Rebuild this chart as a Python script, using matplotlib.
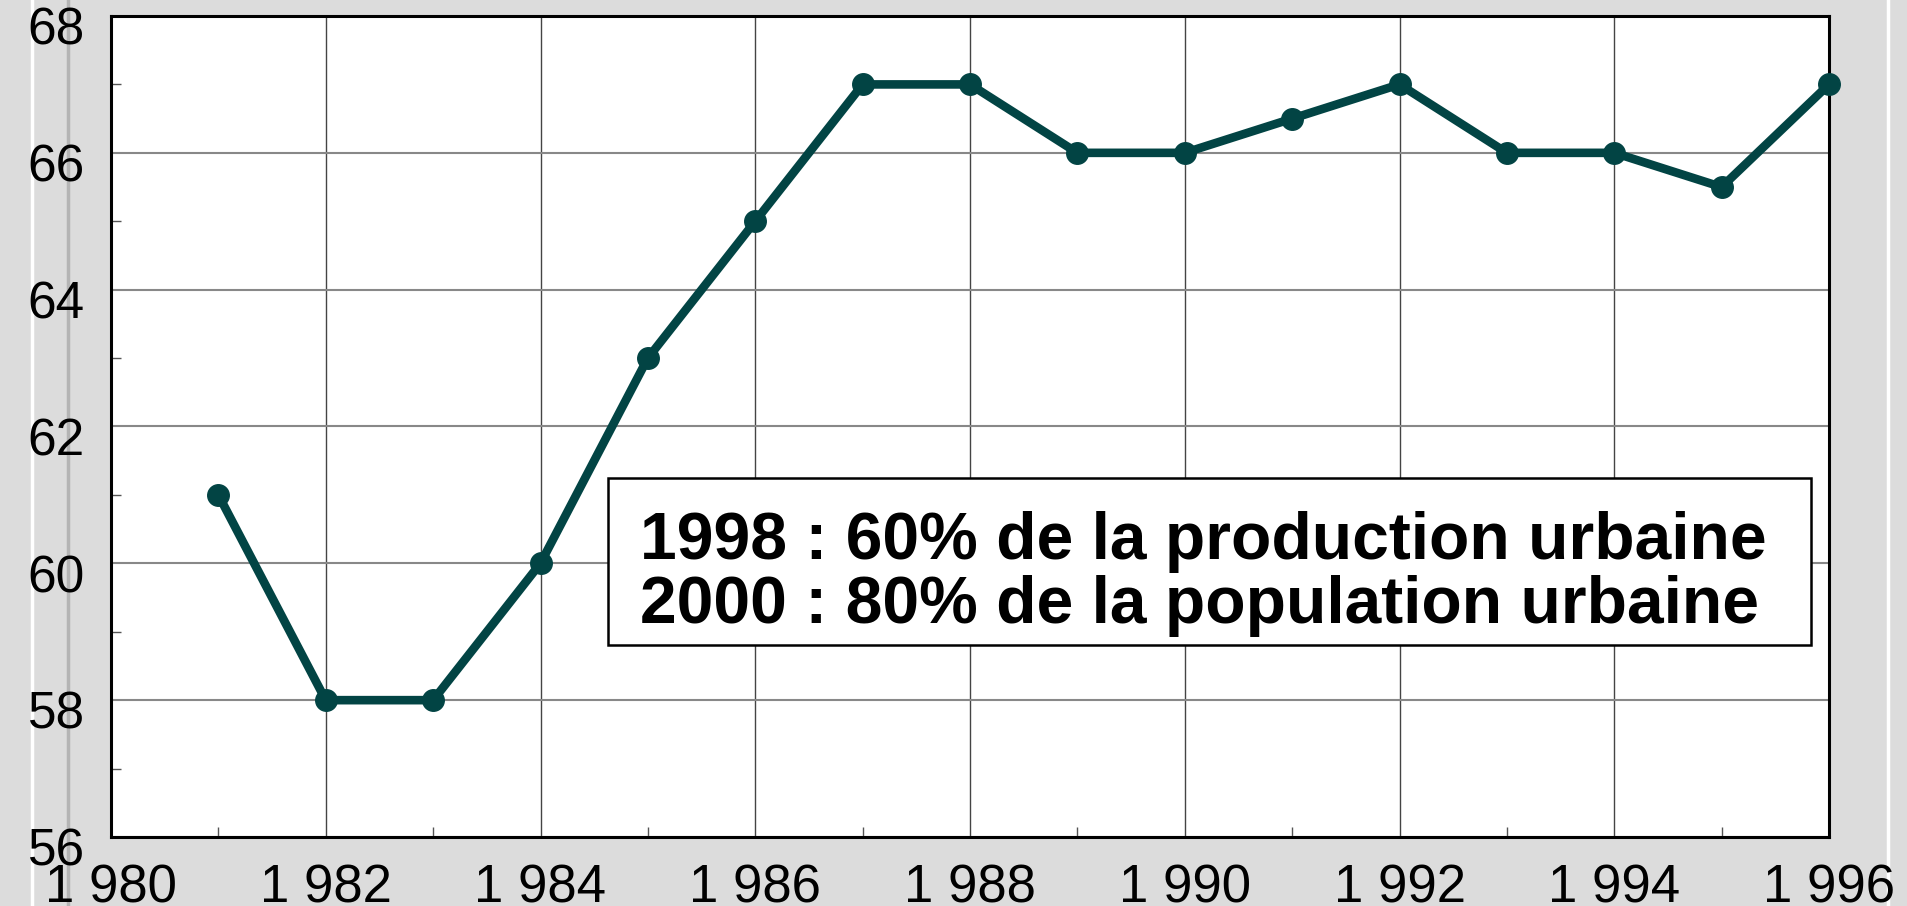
import matplotlib
matplotlib.use("Agg")
import matplotlib.pyplot as plt
import matplotlib.transforms as mtransforms
from matplotlib.lines import Line2D

years = [1981, 1982, 1983, 1984, 1985, 1986, 1987, 1988,
         1989, 1990, 1991, 1992, 1993, 1994, 1995, 1996]
values = [61, 58, 58, 60, 63, 65, 67, 67,
          66, 66, 66.5, 67, 66, 66, 65.5, 67]
x_ticks = [1980, 1982, 1984, 1986, 1988, 1990, 1992, 1994, 1996]
x_tick_labels = ["1 980", "1 982", "1 984", "1 986", "1 988",
                 "1 990", "1 992", "1 994", "1 996"]
y_ticks = [56, 58, 60, 62, 64, 66, 68]
y_tick_labels = ["56", "58", "60", "62", "64", "66", "68"]
note_lines = ["1998 : 60% de la production urbaine",
              "2000 : 80% de la population urbaine"]

plt.rcParams['font.family'] = ['Liberation Sans', 'DejaVu Sans']

W, H = 1907, 906
fig = plt.figure(figsize=(W / 100, H / 100), dpi=100)
fig.patch.set_facecolor("#dcdcdc")

# decorative vertical stripes of the background
for xp, col, lw in [(32, "white", 2.5), (68, "#b4b4b4", 2.5), (1888, "white", 2.5)]:
    fig.add_artist(Line2D([xp / W, xp / W], [0, 1], color=col, lw=lw,
                          transform=fig.transFigure, zorder=0))

ax = fig.add_axes([111 / W, (H - 837) / H, (1829 - 111) / W, (837 - 16) / H])
ax.set_facecolor("white")
ax.set_xlim(1980, 1996)
ax.set_ylim(56, 68)

ax.set_xticks(x_ticks)
ax.set_xticklabels(x_tick_labels, fontsize=38)
ax.set_yticks(y_ticks)
ax.set_yticklabels(y_tick_labels, fontsize=37)
ax.set_xticks([y for y in range(1981, 1996, 2)], minor=True)
ax.set_yticks([v for v in range(57, 68, 2)], minor=True)

ax.tick_params(axis="both", which="major", length=0)
ax.tick_params(axis="x", which="major", pad=19)
ax.tick_params(axis="y", which="major", pad=19)
ax.tick_params(axis="both", which="minor", direction="in", length=7.5,
               width=1.0, color="#555555")
ax.tick_params(axis="x", which="minor", top=False)
ax.tick_params(axis="y", which="minor", right=False)

# shift y labels slightly downward like the reference
offset = mtransforms.ScaledTranslation(0, -7 / 72, fig.dpi_scale_trans)
for lab in ax.get_yticklabels():
    lab.set_transform(lab.get_transform() + offset)

ax.grid(True, axis="y", which="major", color="#888888", lw=1.5, zorder=1)
ax.grid(True, axis="x", which="major", color="#444444", lw=1.0, zorder=1)
ax.set_axisbelow(True)

for s in ax.spines.values():
    s.set_linewidth(2.2)
    s.set_color("black")

ax.plot(years, values, color="#024444", lw=6.2, marker="o", markersize=15.5,
        markerfacecolor="#024444", markeredgecolor="#024444", zorder=5,
        solid_capstyle="round", clip_on=False)

# annotation box
bx0 = 1980 + (608 - 111) / 1718 * 16
bx1 = 1980 + (1811 - 111) / 1718 * 16
by1 = 68 - (478 - 16) / 821 * 12
by0 = 68 - (645 - 16) / 821 * 12
ax.add_patch(plt.Rectangle((bx0, by0), bx1 - bx0, by1 - by0,
                           facecolor="white", edgecolor="black", lw=1.8, zorder=6))
tx = 1980 + (640 - 111) / 1718 * 16
for i, line in enumerate(note_lines):
    ty = 68 - ((559 + 64 * i) - 16) / 821 * 12
    ax.text(tx, ty, line, fontsize=47.5, fontweight="bold", ha="left",
            va="baseline", zorder=7)

fig.savefig("out.png", dpi=100, facecolor=fig.get_facecolor())
